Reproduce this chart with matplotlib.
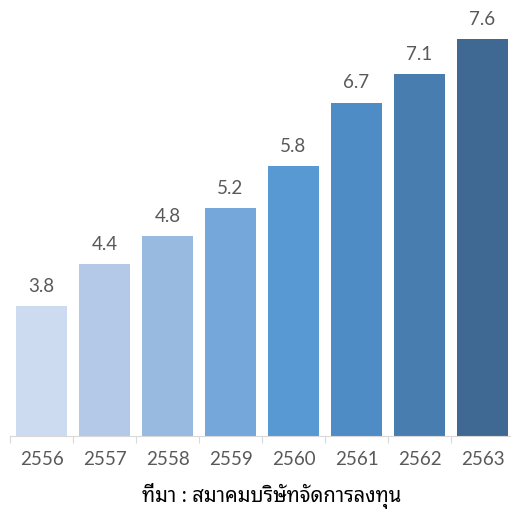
"""Bar chart: fund industry growth by Thai year."""

import matplotlib
matplotlib.use("Agg")
import matplotlib.pyplot as plt

years = ["2556", "2557", "2558", "2559", "2560", "2561", "2562", "2563"]
values = [3.8, 4.4, 4.8, 5.2, 5.8, 6.7, 7.1, 7.6]
bar_colors = ["#cddbf0", "#b3c9e7", "#98b9e0", "#75a7da", "#5899d3",
              "#4d8cc4", "#477daf", "#3f6892"]
source_note = "ที่มา : สมาคมบริษัทจัดการลงทุน"

text_color = "#595959"
num_font = ["Lato", "DejaVu Sans"]

fig = plt.figure(figsize=(5.11, 5.15), dpi=100)
ax = fig.add_axes([10 / 511, 79 / 515, 504 / 511, 436 / 515])
x = range(len(years))
bars = ax.bar(x, values, width=0.8, color=bar_colors)
ax.set_xlim(-0.5, len(years) - 0.5)
ax.set_ylim(1.95, 8.16)

for rect, v in zip(bars, values):
    ax.annotate(f"{v:.1f}", (rect.get_x() + rect.get_width() / 2, v),
                xytext=(0, 8), textcoords="offset points", ha="center", va="bottom",
                fontsize=13.5, color=text_color, family=num_font)

for side in ("left", "right", "top"):
    ax.spines[side].set_visible(False)
ax.spines["bottom"].set_color("#d9d9d9")
ax.set_yticks([])
# category borders as major ticks, year labels as minor ticks
ax.set_xticks([i + 0.5 for i in range(-1, len(years) - 1)])
ax.set_xticklabels([])
ax.tick_params(axis="x", length=5, color="#d9d9d9")
ax.set_xticks(list(x), minor=True)
ax.set_xticklabels(years, minor=True, fontsize=13.5, color=text_color, family=num_font)
ax.tick_params(axis="x", which="minor", length=0, pad=11)

fig.text(272 / 511, 19 / 515, source_note, ha="center", va="center",
         fontsize=14.5, color="black", fontweight="light",
         family=["Noto Sans Thai Looped", "DejaVu Sans"])

fig.savefig("out.png", dpi=100)
